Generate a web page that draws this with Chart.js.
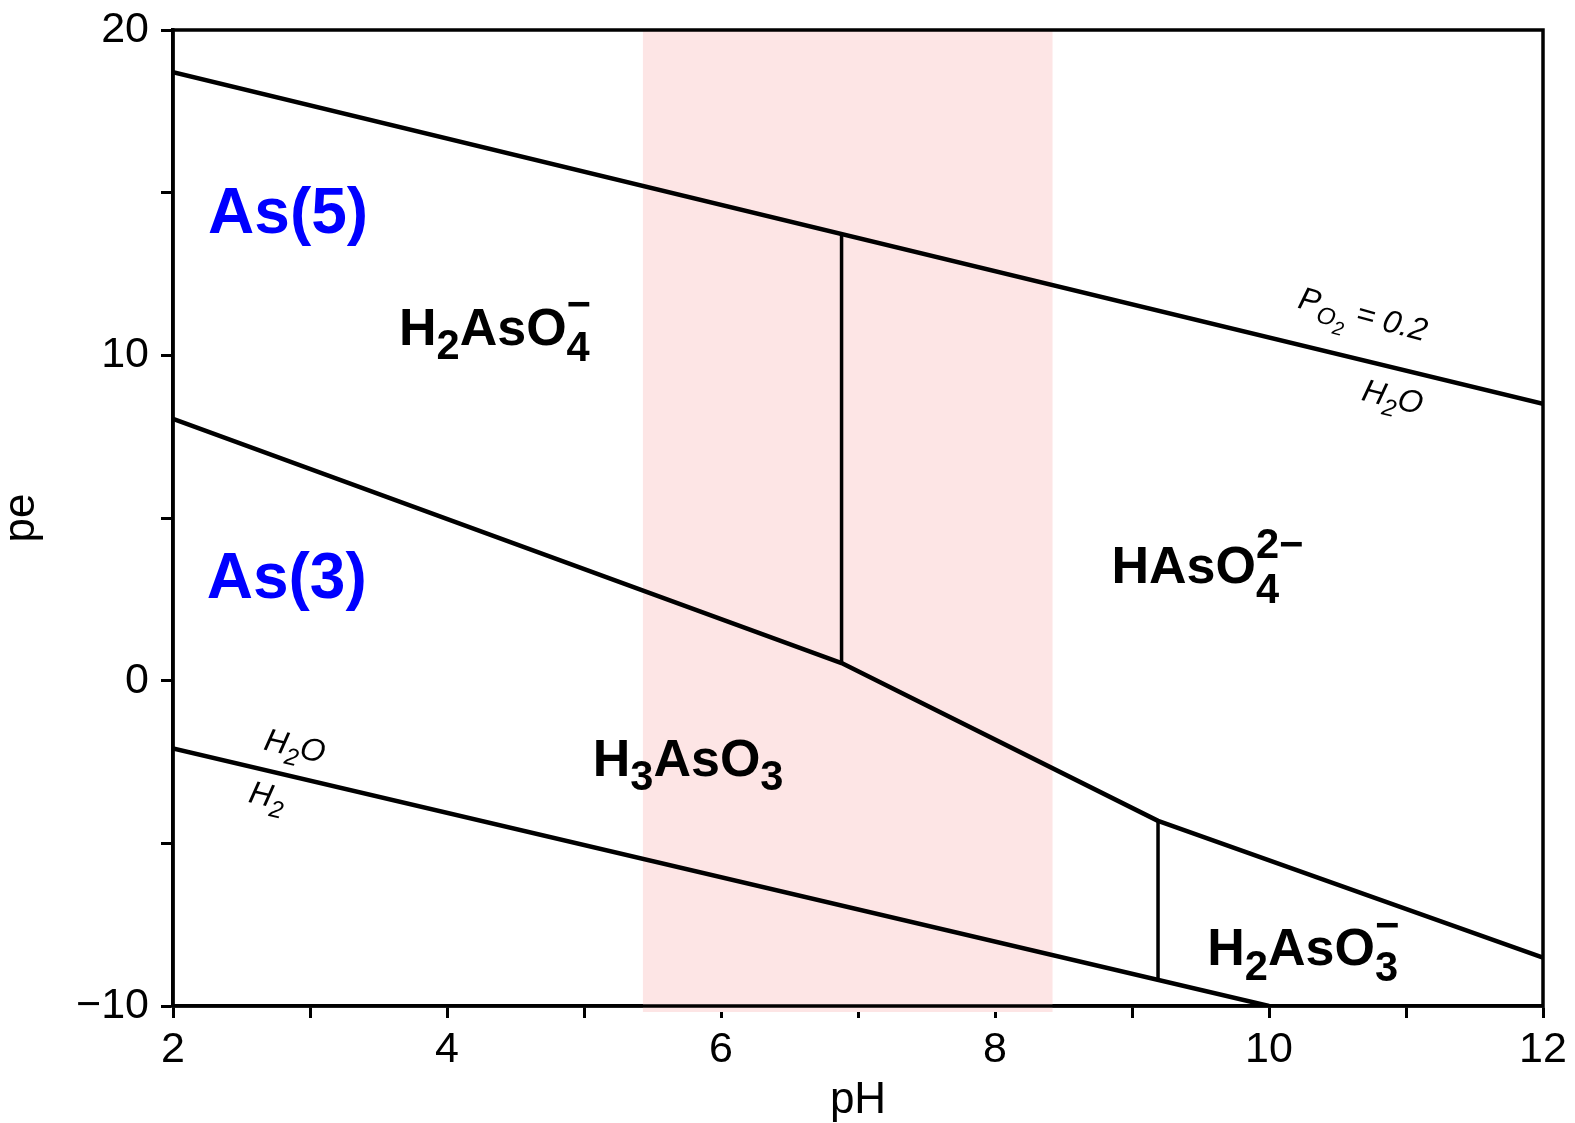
<!DOCTYPE html>
<html><head><meta charset="utf-8">
<script src="https://cdn.jsdelivr.net/npm/chart.js@4.4.0/dist/chart.umd.min.js"></script>
<style>html,body{margin:0;padding:0;background:#fff;} #wrap{width:1575px;height:1123px;position:relative;}</style>
</head><body><div id="wrap"><canvas id="c"></canvas></div>
<script>
// ---------------- data ----------------
const xTickLabels = [2, 4, 6, 8, 10, 12];
const yTickLabels = [-10, 0, 10, 20];
const bandPH = [5.43, 8.42];            // shaded pH band
const o2PH = [2, 12];                   // O2 / H2O boundary
const o2PE = [18.70, 8.51];
const h2PH = [2, 10];                   // H2O / H2 boundary
const h2PE = [-2.08, -10];
const redoxPH = [2, 6.88, 9.19, 12];    // As(5) / As(3) boundary
const redoxPE = [8.05, 0.54, -4.31, -8.51];
const split5PH = [6.88, 6.88];          // H2AsO4- / HAsO4 2- boundary
const split5PE = [0.54, 13.72];
const split3PH = [9.19, 9.19];          // H3AsO3 / H2AsO3- boundary
const split3PE = [-4.31, -9.20];

// ---------------- annotations (text + anchor in data units) ----------------
const FAM = '"Liberation Sans", Arial, Helvetica, sans-serif';
const boldF = {size: 52, weight: 'bold', style: 'normal', family: FAM, color: '#000'};
const blueF = {size: 64, weight: 'bold', style: 'normal', family: FAM, color: '#0000ff'};
const itF = {size: 32, weight: 'normal', style: 'italic', family: FAM, color: '#000'};
const annotations = [
  {pH: 2.84, pe: 13.76, font: blueF, rot: 0, parts: [{t: 'As(5)'}]},
  {pH: 2.83, pe: 2.54, font: blueF, rot: 0, parts: [{t: 'As(3)'}]},
  {pH: 4.35, pe: 10.32, font: boldF, rot: 0,
    parts: [{t: 'H'}, {t: '2', s: .8, dy: .27}, {t: 'AsO'}, {t: '4', s: .8, dy: .3, hold: 1}, {t: '\u2212', s: .8, dy: -.52}]},
  {pH: 5.76, pe: -2.93, font: boldF, rot: 0,
    parts: [{t: 'H'}, {t: '3', s: .8, dy: .27}, {t: 'AsO'}, {t: '3', s: .8, dy: .27}]},
  {pH: 9.55, pe: 3.0, font: boldF, rot: 0,
    parts: [{t: 'HAsO'}, {t: '4', s: .8, dy: .38, hold: 1}, {t: '2\u2212', s: .8, dy: -.48}]},
  {pH: 10.25, pe: -8.74, font: boldF, rot: 0,
    parts: [{t: 'H'}, {t: '2', s: .8, dy: .29}, {t: 'AsO'}, {t: '3', s: .8, dy: .3, hold: 1}, {t: '\u2212', s: .8, dy: -.5}]},
  {pH: 10.666, pe: 10.95, font: itF, rot: 15,
    parts: [{t: 'P'}, {t: 'O', s: .75, dy: .28}, {t: '2', s: .6, dy: .5}, {t: ' = 0.2'}]},
  {pH: 10.885, pe: 8.41, font: itF, rot: 14,
    parts: [{t: 'H'}, {t: '2', s: .75, dy: .28}, {t: 'O'}]},
  {pH: 2.874, pe: -2.32, font: itF, rot: 13,
    parts: [{t: 'H'}, {t: '2', s: .75, dy: .28}, {t: 'O'}]},
  {pH: 2.673, pe: -3.85, font: itF, rot: 13,
    parts: [{t: 'H'}, {t: '2', s: .75, dy: .28}]}
];

const pts = (xs, ys) => xs.map((x, i) => ({x: x, y: ys[i]}));

function drawParts(ctx, a, px, py) {
  const f = a.font;
  const fontFor = s => `${f.style} ${f.weight} ${(f.size * s).toFixed(1)}px ${f.family}`;
  const lay = [];
  let total = 0, holdStart = null, holdW = 0;
  for (const p of a.parts) {
    const s = p.s || 1;
    ctx.font = fontFor(s);
    const w = ctx.measureText(p.t).width;
    if (holdStart !== null) {
      lay.push({p, x: holdStart, s});
      total = holdStart + Math.max(holdW, w);
      holdStart = null;
      continue;
    }
    lay.push({p, x: total, s});
    if (p.hold) { holdStart = total; holdW = w; } else total += w;
  }
  if (holdStart !== null) total = holdStart + holdW;
  ctx.save();
  ctx.translate(px, py);
  ctx.rotate(a.rot * Math.PI / 180);
  ctx.fillStyle = f.color;
  ctx.textAlign = 'left';
  ctx.textBaseline = 'alphabetic';
  for (const L of lay) {
    ctx.font = fontFor(L.s);
    ctx.fillText(L.p.t, L.x - total / 2, (L.p.dy || 0) * f.size);
  }
  ctx.restore();
}

const bandPlugin = {
  id: 'band',
  beforeDatasetsDraw(chart) {
    const {ctx, chartArea: ca, scales: {x}} = chart;
    const x0 = x.getPixelForValue(bandPH[0]), x1 = x.getPixelForValue(bandPH[1]);
    ctx.save();
    ctx.fillStyle = 'rgb(253,229,229)';
    ctx.fillRect(x0, ca.top, x1 - x0, ca.bottom - ca.top + 6);
    ctx.restore();
  }
};
const framePlugin = {
  id: 'frame',
  afterDatasetsDraw(chart) {
    const {ctx, chartArea: ca} = chart;
    ctx.save();
    ctx.strokeStyle = '#000';
    ctx.lineWidth = 3.5;
    ctx.strokeRect(ca.left, ca.top, ca.right - ca.left, ca.bottom - ca.top);
    ctx.restore();
  }
};
const labelPlugin = {
  id: 'labels',
  afterDraw(chart) {
    const {ctx, scales: {x, y}} = chart;
    for (const a of annotations) drawParts(ctx, a, x.getPixelForValue(a.pH), y.getPixelForValue(a.pe));
  }
};

const lineDs = (data, w) => ({data, showLine: true, borderColor: '#000', backgroundColor: '#000',
  borderWidth: w, pointRadius: 0, tension: 0, fill: false, borderJoinStyle: 'round'});

const tickFont = {family: FAM, size: 43};
const titleFont = {family: FAM, size: 44, lineHeight: 1};

new Chart(document.getElementById('c'), {
  type: 'scatter',
  data: {datasets: [
    lineDs(pts(o2PH, o2PE), 4.5),
    lineDs(pts(h2PH, h2PE), 4.5),
    lineDs(pts(redoxPH, redoxPE), 4.5),
    lineDs(pts(split5PH, split5PE), 3.5),
    lineDs(pts(split3PH, split3PE), 3.5)
  ]},
  options: {
    responsive: true, maintainAspectRatio: false, animation: false, devicePixelRatio: 1,
    layout: {padding: {left: 0, right: 32, top: 30, bottom: 0}},
    plugins: {legend: {display: false}, tooltip: {enabled: false}},
    scales: {
      x: {
        type: 'linear', position: 'bottom', min: 2, max: 12,
        ticks: {stepSize: 1, autoSkip: false, maxRotation: 0, color: '#000', font: tickFont, padding: 6,
          callback: v => xTickLabels.includes(v) ? String(v) : ''},
        grid: {display: true, drawOnChartArea: false, drawTicks: true, tickLength: 12, tickWidth: 3, tickColor: '#000', color: '#000'},
        border: {display: true, color: '#000', width: 3.5},
        title: {display: true, text: 'pH', color: '#000', font: titleFont, padding: {top: 0, bottom: 0}},
        afterFit: s => { s.height = 117; s.paddingLeft = 0; s.paddingRight = 0; }
      },
      y: {
        type: 'linear', position: 'left', min: -10, max: 20,
        ticks: {stepSize: 5, autoSkip: false, color: '#000', font: tickFont, padding: 12,
          callback: v => yTickLabels.includes(v) ? (v < 0 ? '\u2212' + (-v) : String(v)) : ''},
        grid: {display: true, drawOnChartArea: false, drawTicks: true, tickLength: 12, tickWidth: 3, tickColor: '#000', color: '#000'},
        border: {display: true, color: '#000', width: 3.5},
        title: {display: true, text: 'pe', color: '#000', font: titleFont, padding: {top: 0, bottom: 0}},
        afterFit: s => { s.width = 173; s.paddingTop = 0; s.paddingBottom = 0; }
      }
    }
  },
  plugins: [bandPlugin, framePlugin, labelPlugin]
});
</script>
</body></html>
